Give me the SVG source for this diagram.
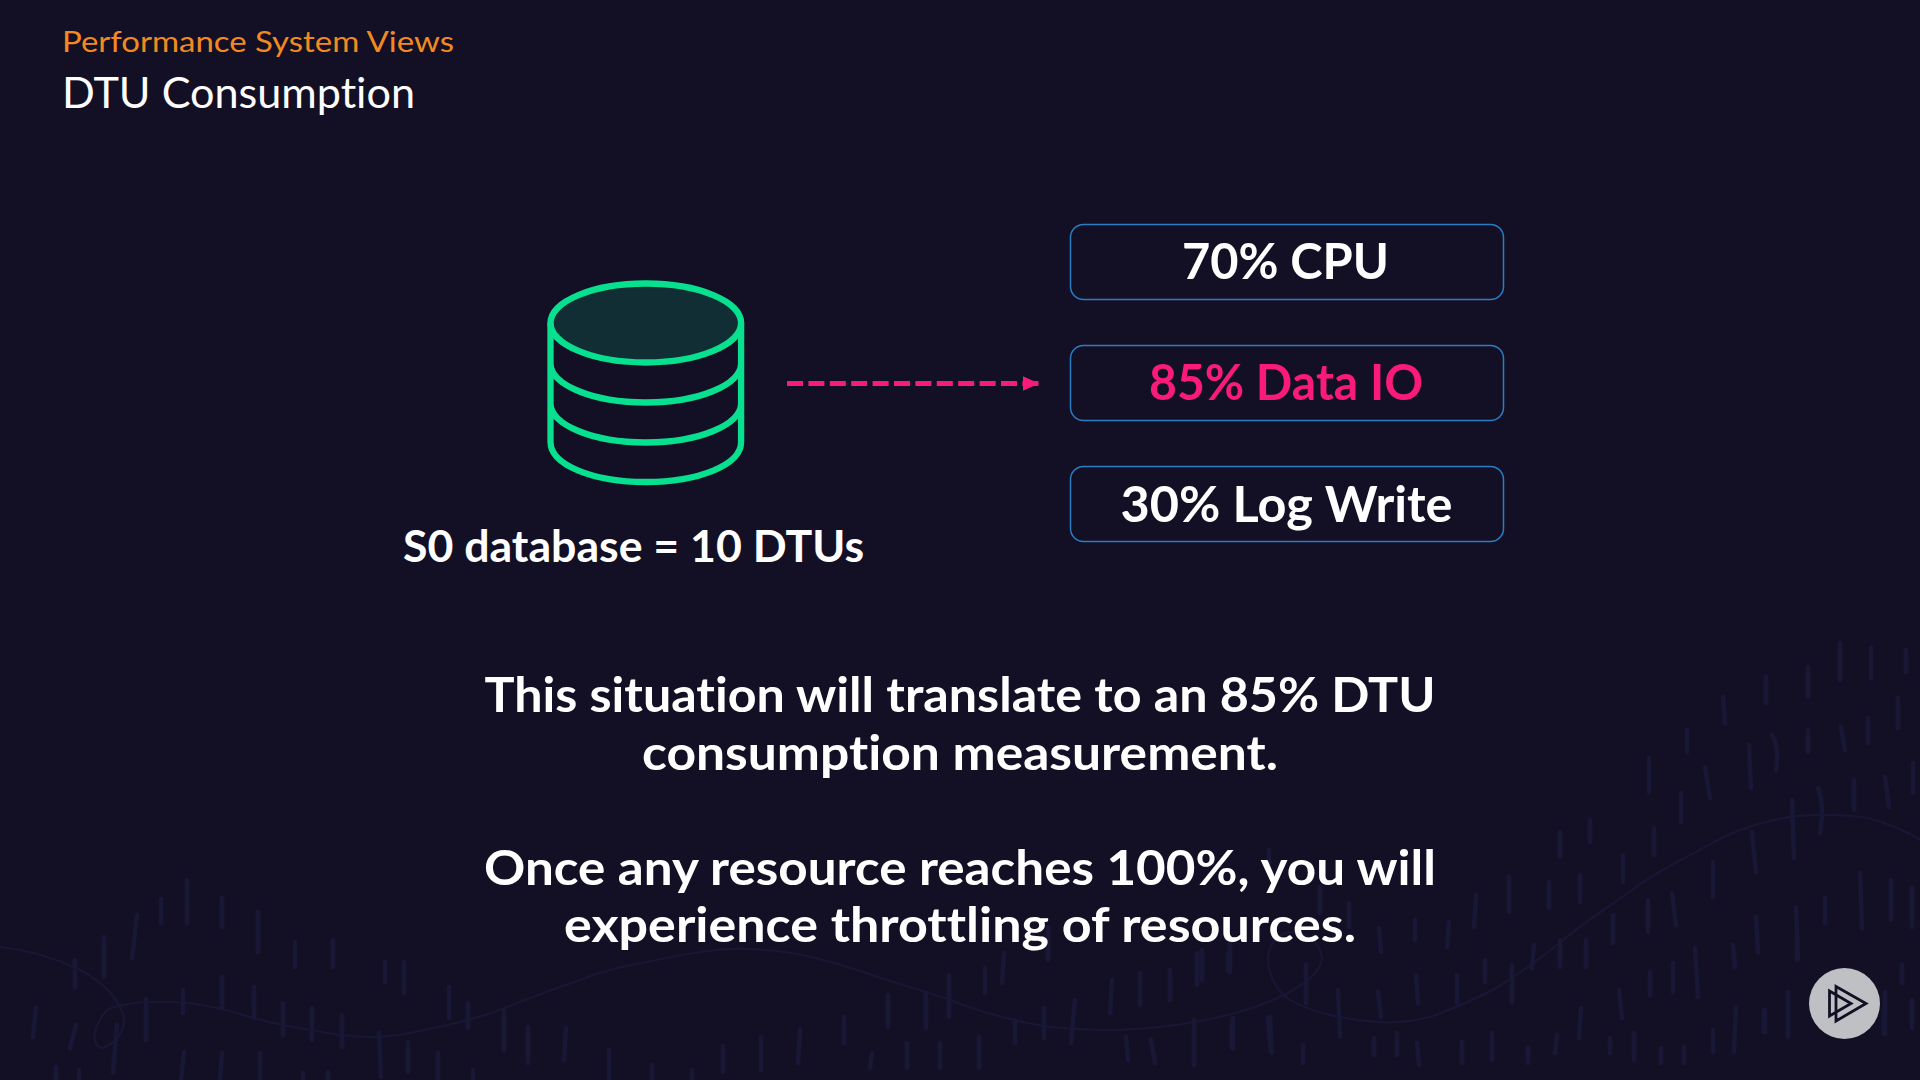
<svg xmlns="http://www.w3.org/2000/svg" width="1920" height="1080" viewBox="0 0 1920 1080">
<style>
text{font-family:"Lato","Inter","Liberation Sans",sans-serif;fill:#fff;font-variant-ligatures:none}
.b{font-weight:700;text-anchor:middle}
.box{fill:none;stroke:#2a7dc4;stroke-width:1.5}
.db{fill:none;stroke:#07e08e;stroke-width:6.3}
.bg{fill:none;stroke:#191736;stroke-linecap:round}
</style>
<defs>
<marker id="ah" markerUnits="userSpaceOnUse" markerWidth="17" markerHeight="16" refX="16.5" refY="8" orient="auto"><path d="M0 .5L16.5 8L0 15.5z" fill="#fa1a78"/></marker>
</defs>
<rect width="1920" height="1080" fill="#131026"/>
<g id="background">
<path class="bg" stroke-width="2" d="M0 947C30 950 55 958 80 970C100 980 115 995 123 1013C126 1025 122 1040 103 1048C92 1048 90 1030 107 1010C120 1003 150 1000 187 1003C215 1006 235 1012 250 1017C275 1024 290 1027 312 1030C335 1035 350 1037 370 1037C390 1037 405 1035 424 1030C445 1026 470 1020 491 1013C520 1002 550 990 580 980C605 970 625 966 647 962C680 955 720 947 750 949C775 950 795 952 815 958C835 963 855 969 872 975C895 983 920 990 945 998C965 1006 985 1013 1006 1018C1025 1023 1045 1027 1064 1028C1085 1030 1100 1030 1121 1030C1150 1028 1175 1026 1194 1022C1220 1018 1240 1012 1255 1007C1270 1001 1288 995 1301 985C1320 972 1325 960 1320 950C1312 932 1290 925 1275 940C1262 955 1268 985 1290 1000C1310 1012 1345 1020 1379 1022C1400 1023 1415 1021 1430 1017C1455 1008 1478 998 1498 987C1525 970 1545 955 1567 937C1590 918 1612 905 1636 887C1660 870 1682 860 1705 847C1730 832 1752 825 1774 820C1790 816 1805 815 1820 815C1840 815 1860 815 1875 820C1895 826 1908 832 1920 840"/>
<path class="bg" stroke-width="4.5" d="M36 1008L33 1037M75 960V987M104 937V977M137 915L132 958M161 899V923M187 880V923M222 898V927M258 912V952M295 942V967M333 940V967M385 962V982M404 962V993M449 987V1018M468 1003V1028M504 1010V1050M528 1027V1063M566 1028L564 1060M609 1050V1080M146 999V1040M183 990V1013M222 977V1007M254 987V1018M283 1003V1035M312 1008V1040M342 1015V1047M379 1033L381 1077M408 1042V1072M438 1053V1080M76 1025L70 1048M117 1025L113 1072M184 1052L181 1080M222 1053L220 1080M260 1053V1080M56 1067V1080M79 1070V1080M303 1073V1080M328 1072V1080M473 1070V1080M652 1065V1080M692 1070V1080M723 1046V1072M761 1037V1070M800 1030L798 1063M844 1017V1043M888 995V1027M926 993V1028M949 975V1017M985 968V993M1004 953L1002 983M1015 1020V1043M1044 1008V1038M1075 1000L1071 1043M1112 980L1110 1013M1140 973V1005M1170 970V1000M1197 953V985M1230 942V972M1194 1020V1065M1233 1018V1048M1270 1017L1272 1053M1126 1037L1128 1060M1151 1040L1155 1063M872 1053L870 1068M907 1043V1068M940 1043V1068M979 1037V1068M1048 927V960M1840 643V680M1871 648V678M1906 650V672M1808 667V697M1766 677V703M1723 697L1725 723M1898 698V728M1687 730V752M1808 730V752M1841 727L1845 750M1868 718V743M1772 735C1778 745 1778 758 1776 770M1749 745L1751 788M1649 758V792M1705 768L1710 798M1681 793V822M1818 788C1824 805 1822 820 1820 833M1854 780V810M1885 777L1889 807M1913 763V793M1590 820V842M1560 832V857M1654 828V855M1792 800L1794 858M1752 832L1756 872M1623 855V882M1713 862V897M1509 877V912M1549 882V908M1580 875V902M1476 895L1474 927M1449 922L1447 947M1415 920V940M1379 928L1381 952M1672 893L1676 925M1648 900V932M1613 915V943M1586 940V967M1560 940V967M1534 945L1532 968M1485 960V982M1512 965V1002M1457 975V1003M1416 975L1418 1003M1378 992L1381 1017M1338 990L1340 1037M1860 873L1862 928M1891 880V920M1912 887V927M1825 898V923M1796 907L1798 960M1756 917L1758 952M1733 945L1735 967M1695 948L1698 997M1673 963V992M1650 972V995M1619 990L1622 1018M1581 1008L1579 1038M1557 1035L1555 1053M1528 1047V1063M1492 1033V1060M1462 1042V1063M1417 1043L1419 1065M1397 1033V1055M1374 1038V1055M1303 1045V1063M1268 1018L1271 1052M1232 1020V1048M1788 992V1037M1765 1010V1032M1736 1007L1734 1052M1713 1030V1052M1684 1047V1063M1661 1048V1063M1634 1033V1060M1610 1038V1053M1884 1010V1033M1912 1000V1028M1902 965V983M1306 965V1003M1228 953V970M1202 950V980M1349 903V927M1320 887V913M1269 850V863M1797 940V960M1764 1010V1032M1885 992V1034"/>
</g>
<g id="header">
<text x="62" y="52" font-size="29" style="fill:#f38a1f" textLength="392" lengthAdjust="spacingAndGlyphs">Performance System Views</text>
<text x="62" y="108" font-size="42" textLength="353" lengthAdjust="spacingAndGlyphs">DTU Consumption</text>
</g>
<g id="database">
<ellipse cx="645.8" cy="323" rx="95.3" ry="39.5" fill="#122e35" stroke="none"/>
<ellipse class="db" cx="645.8" cy="323" rx="95.3" ry="39.500"/>
<path class="db" d="M550.500 323V442C550.500 465 593 482 645.800 482C698.600 482 741.100 465 741.100 442V323M550.500 363C550.500 385 593 402.500 645.800 402.500C698.600 402.500 741.100 385 741.100 363M550.500 403C550.500 425 593 442.500 645.800 442.500C698.600 442.500 741.100 425 741.100 403"/>
<text class="b" x="633.500" y="561.500" font-size="43" textLength="461" lengthAdjust="spacingAndGlyphs">S0 database = 10 DTUs</text>
</g>
<g id="connectors">
<line x1="787" y1="383.5" x2="1039" y2="383.5" stroke="#fa1a78" stroke-width="5" stroke-dasharray="16 5.4" marker-end="url(#ah)"/>
</g>
<g id="cpu">
<rect class="box" x="1070.500" y="224.5" width="433" height="75" rx="13"/>
<text class="b" x="1285.500" y="279" font-size="49" textLength="207" lengthAdjust="spacingAndGlyphs">70% CPU</text>
</g>
<g id="data-io">
<rect class="box" x="1070.500" y="345.500" width="433" height="75" rx="13"/>
<text class="b" x="1286" y="400" font-size="49" style="fill:#fa1a78" textLength="274" lengthAdjust="spacingAndGlyphs">85% Data IO</text>
</g>
<g id="log-write">
<rect class="box" x="1070.500" y="466.5" width="433" height="75" rx="13"/>
<text class="b" x="1286.500" y="521.500" font-size="49" textLength="332" lengthAdjust="spacingAndGlyphs">30% Log Write</text>
</g>
<g id="message">
<text class="b" x="960" y="711.500" font-size="48" textLength="951" lengthAdjust="spacingAndGlyphs">This situation will translate to an 85% DTU</text>
<text class="b" x="960" y="769.500" font-size="48" textLength="636" lengthAdjust="spacingAndGlyphs">consumption measurement.</text>
<text class="b" x="960" y="884.500" font-size="48" textLength="952" lengthAdjust="spacingAndGlyphs">Once any resource reaches 100%, you will</text>
<text class="b" x="960" y="942" font-size="48" textLength="792" lengthAdjust="spacingAndGlyphs">experience throttling of resources.</text>
</g>
<g id="logo">
<circle cx="1844.500" cy="1003.5" r="35.5" fill="#bfc0c4"/>
<path d="M1836 986.500L1866 1003.500L1836 1021zM1829.500 991L1851 1003.500L1829.500 1016z" fill="none" stroke="#131026" stroke-width="2.800"/>
</g>
</svg>
